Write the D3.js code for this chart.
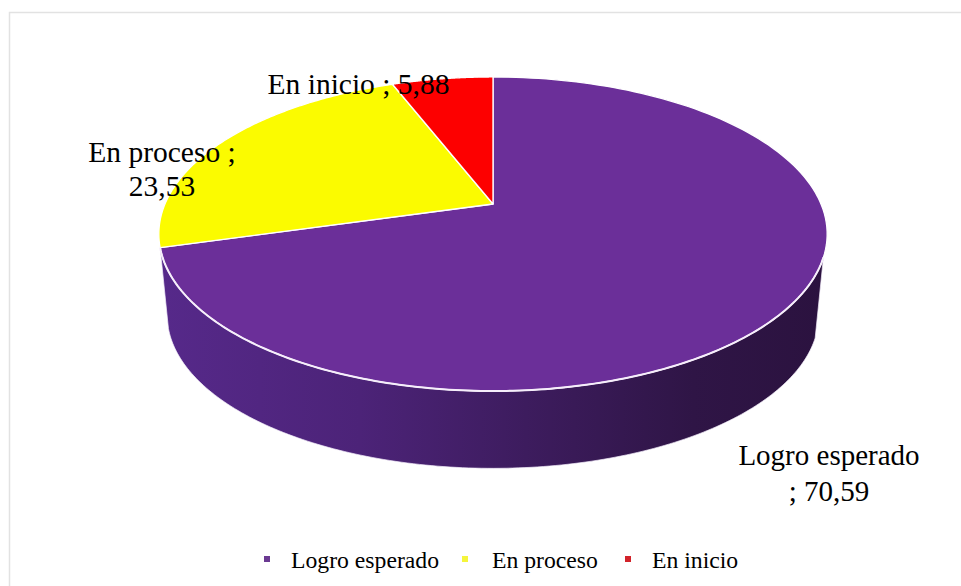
<!DOCTYPE html>
<html><head><meta charset="utf-8">
<script src="https://cdn.jsdelivr.net/npm/d3@7"></script>
<style>html,body{margin:0;padding:0;background:#fff}svg{display:block}text{font-family:"Liberation Serif",serif;fill:#000}</style>
</head><body><svg id="c" width="961" height="586"></svg>
<script>
const categories=["Logro esperado","En proceso","En inicio"];
const values=[70.59,23.53,5.88];
const labels=["70,59","23,53","5,88"];
const colors=["#6b2f99","#fbfb00","#fd0000"];
const legendColors=["#6b3a92","#f5f53c","#d2232a"];

(function(){
const W=961,H=586;
const svg=d3.select("#c");
const cx=493,cy=204,p=0.191,A=151.3,B=328;
const project=(t,scale=1,dy=0)=>{
  const x=Math.sin(t),y=-Math.cos(t),s=1/(1-p*y);
  return [cx+B*scale*x*s, cy+dy+A*scale*y*s];
};
const arcs=d3.pie().sort(null).value(d=>d)(values);
const line=d3.line();
const samples=(a,b,n=160)=>d3.range(n+1).map(i=>a+(b-a)*i/n);

const defs=svg.append("defs");
const grad=defs.append("linearGradient").attr("id","wall").attr("gradientUnits","userSpaceOnUse")
  .attr("x1",160).attr("x2",826).attr("y1",0).attr("y2",0);
[[0,"#56298a"],[0.3,"#4c2378"],[0.55,"#3d1c5e"],[0.8,"#2f1546"],[1,"#2b123f"]].forEach(s=>grad.append("stop").attr("offset",s[0]).attr("stop-color",s[1]));

// frame
svg.append("path").attr("d",`M9.5,${H}V12.5H${W}`).attr("fill","none").attr("stroke","#e2e2e2").attr("stroke-width",1.5);

// wall
const wallA=109.3*Math.PI/180, wallB=arcs[0].endAngle;
const rimTop=samples(wallA,wallB).map(t=>project(t));
const rimBot=samples(wallA,wallB).map(t=>project(t,0.975,82)).reverse();
svg.append("path").attr("d",line(rimTop.concat(rimBot))+"Z").attr("fill","url(#wall)").attr("stroke","#f4eefa").attr("stroke-width",0.7);

// top slices
arcs.forEach((a,i)=>{
  const pts=samples(a.startAngle,a.endAngle).map(t=>project(t));
  svg.append("path").attr("d",line([[cx,cy],...pts])+"Z").attr("fill",colors[i]).attr("stroke","#fff").attr("stroke-width",1.3).attr("stroke-linejoin","round");
});
// bright front rim
svg.append("path").attr("d",line(rimTop)).attr("fill","none").attr("stroke","#f6eefb").attr("stroke-width",2);

// data labels
const lab=[
 {x:358.5,y:[94],size:29.5,lines:[`${categories[2]} ; ${labels[2]}`]},
 {x:162,y:[162,196],size:29.5,lines:[`${categories[1]} ;`,labels[1]]},
 {x:829,y:[465,501],size:29,lines:[categories[0],`; ${labels[0]}`]}
];
lab.forEach(l=>{
  l.lines.forEach((s,k)=>svg.append("text").attr("x",l.x).attr("y",l.y[k]).attr("text-anchor","middle").attr("font-size",l.size).text(s));
});

// legend
const legX=[267,465,628],txtX=[291,492,652];
categories.forEach((c,i)=>{
  svg.append("rect").attr("x",legX[i]-3).attr("y",556).attr("width",6).attr("height",6).attr("fill",legendColors[i]);
  svg.append("text").attr("x",txtX[i]).attr("y",568).attr("font-size",23.7).text(c);
});
})();
</script></body></html>
